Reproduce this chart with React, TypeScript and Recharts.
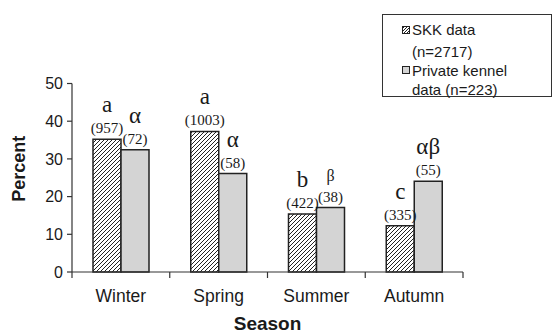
import { BarChart, Bar, XAxis, YAxis, LabelList } from 'recharts'

const seasons = ['Winter', 'Spring', 'Summer', 'Autumn']
const skkPercent = [35.2, 37.3, 15.4, 12.3]
const privatePercent = [32.4, 26.1, 17.1, 24.1]
const skkCounts = ['(957)', '(1003)', '(422)', '(335)']
const privateCounts = ['(72)', '(58)', '(38)', '(55)']
const skkLetters = ['a', 'a', 'b', 'c']
const privateLetters = ['α', 'α', 'β', 'αβ']
const yTicks = [0, 10, 20, 30, 40, 50]

const chartData = seasons.map((s, i) => ({
  season: s,
  skk: skkPercent[i],
  priv: privatePercent[i],
}))

const ink = '#1a1a1a'
const sans = '"Liberation Sans", Arial, sans-serif'
const serif = '"Liberation Serif", "Times New Roman", serif'

function makeBarLabel(counts: string[], letters: string[]) {
  return function BarLabel(props: any) {
    const { x, y, width, index } = props
    const cx = Number(x) + Number(width) / 2
    const top = Number(y)
    const letter = letters[index]
    return (
      <g>
        <text x={cx} y={top - 27} textAnchor="middle" fontFamily={serif} fontSize={letter === 'β' ? 16 : 23} fill={ink}>
          {letter}
        </text>
        <text x={cx} y={top - 6} textAnchor="middle" fontFamily={serif} fontSize={15} fill={ink}>
          {counts[index]}
        </text>
      </g>
    )
  }
}

function SeasonTick(props: any) {
  const { x, y, payload, index } = props
  const half = payload?.offset ?? 49
  return (
    <g>
      <line x1={x - half} x2={x - half} y1={y} y2={y + 6} stroke="#333" strokeWidth={1.2} />
      {index === seasons.length - 1 && (
        <line x1={x + half} x2={x + half} y1={y} y2={y + 6} stroke="#333" strokeWidth={1.2} />
      )}
      <text x={x} y={y + 30} textAnchor="middle" fontFamily={sans} fontSize={17.5} fill={ink}>
        {payload.value}
      </text>
    </g>
  )
}

function LegendBox() {
  const row = { display: 'flex', alignItems: 'center', height: 19 } as const
  return (
    <div
      style={{
        position: 'absolute',
        left: 382,
        top: 14,
        width: 170,
        height: 83,
        border: '1px solid #333',
        fontFamily: sans,
        fontSize: 15,
        color: ink,
        boxSizing: 'border-box',
        paddingLeft: 19,
        paddingTop: 3.5,
      }}
    >
      <div style={{ ...row, height: 23, alignItems: 'flex-start', paddingTop: 2, boxSizing: 'border-box' }}>
        <svg width={8} height={8} style={{ marginRight: 2, marginTop: 5 }}>
          <defs>
            <pattern id="hatchLegend" width="3" height="3" patternUnits="userSpaceOnUse">
              <rect width="3" height="3" fill="#fff" />
              <path d="M-1,1 l2,-2 M0,3 l3,-3 M2,4 l2,-2" stroke="#222" strokeWidth={1} />
            </pattern>
          </defs>
          <rect x={0.5} y={0.5} width={7} height={7} fill="url(#hatchLegend)" stroke="#222" />
        </svg>
        SKK data
      </div>
      <div style={{ ...row, paddingLeft: 10 }}>(n=2717)</div>
      <div style={row}>
        <svg width={8} height={8} style={{ marginRight: 2 }}>
          <rect x={0.5} y={0.5} width={7} height={7} fill="#d4d4d4" stroke="#222" />
        </svg>
        Private kennel
      </div>
      <div style={{ ...row, paddingLeft: 10 }}>data (n=223)</div>
    </div>
  )
}

export default function App() {
  return (
    <div style={{ position: 'absolute', left: 0, top: 0, width: 555, height: 334, background: '#fff' }}>
      <BarChart
        width={555}
        height={334}
        data={chartData}
        margin={{ top: 83.5, right: 92, left: 0, bottom: 32 }}
        barGap={0}
        barSize={28}
      >
        <defs>
          <pattern id="hatch" width="4" height="4" patternUnits="userSpaceOnUse">
            <rect width="4" height="4" fill="#fff" />
            <path d="M-1,1 l2,-2 M0,4 l4,-4 M3,5 l2,-2" stroke="#222" strokeWidth={1} />
          </pattern>
        </defs>
        <XAxis
          dataKey="season"
          height={30}
          tickSize={0}
          tickMargin={0}
          tickLine={false}
          axisLine={{ stroke: '#333', strokeWidth: 1.2 }}
          tick={<SeasonTick />}
          interval={0}
          label={(p: any) => {
            const vb = p.viewBox
            return (
              <text x={vb.x + vb.width / 2} y={vb.y + 58} textAnchor="middle" fontFamily={sans} fontSize={19} fontWeight="bold" fill={ink}>
                Season
              </text>
            )
          }}
        />
        <YAxis
          width={72}
          domain={[0, 50]}
          ticks={yTicks}
          tickSize={5}
          tickMargin={4}
          tickLine={{ stroke: '#333', strokeWidth: 1.2 }}
          axisLine={{ stroke: '#333', strokeWidth: 1.2 }}
          tick={{ fontSize: 16, fill: ink, fontFamily: sans }}
          label={(p: any) => {
            const vb = p.viewBox
            const cx = vb.x + 25
            const cy = vb.y + vb.height / 2 - 9
            return (
              <text x={cx} y={cy} transform={`rotate(-90 ${cx} ${cy})`} textAnchor="middle" fontFamily={sans} fontSize={18} fontWeight="bold" fill={ink}>
                Percent
              </text>
            )
          }}
        />
        <Bar dataKey="skk" fill="url(#hatch)" stroke="#222" strokeWidth={1.5} isAnimationActive={false}>
          <LabelList dataKey="skk" content={makeBarLabel(skkCounts, skkLetters)} />
        </Bar>
        <Bar dataKey="priv" fill="#d4d4d4" stroke="#222" strokeWidth={1.5} isAnimationActive={false}>
          <LabelList dataKey="priv" content={makeBarLabel(privateCounts, privateLetters)} />
        </Bar>
      </BarChart>
      <LegendBox />
    </div>
  )
}
